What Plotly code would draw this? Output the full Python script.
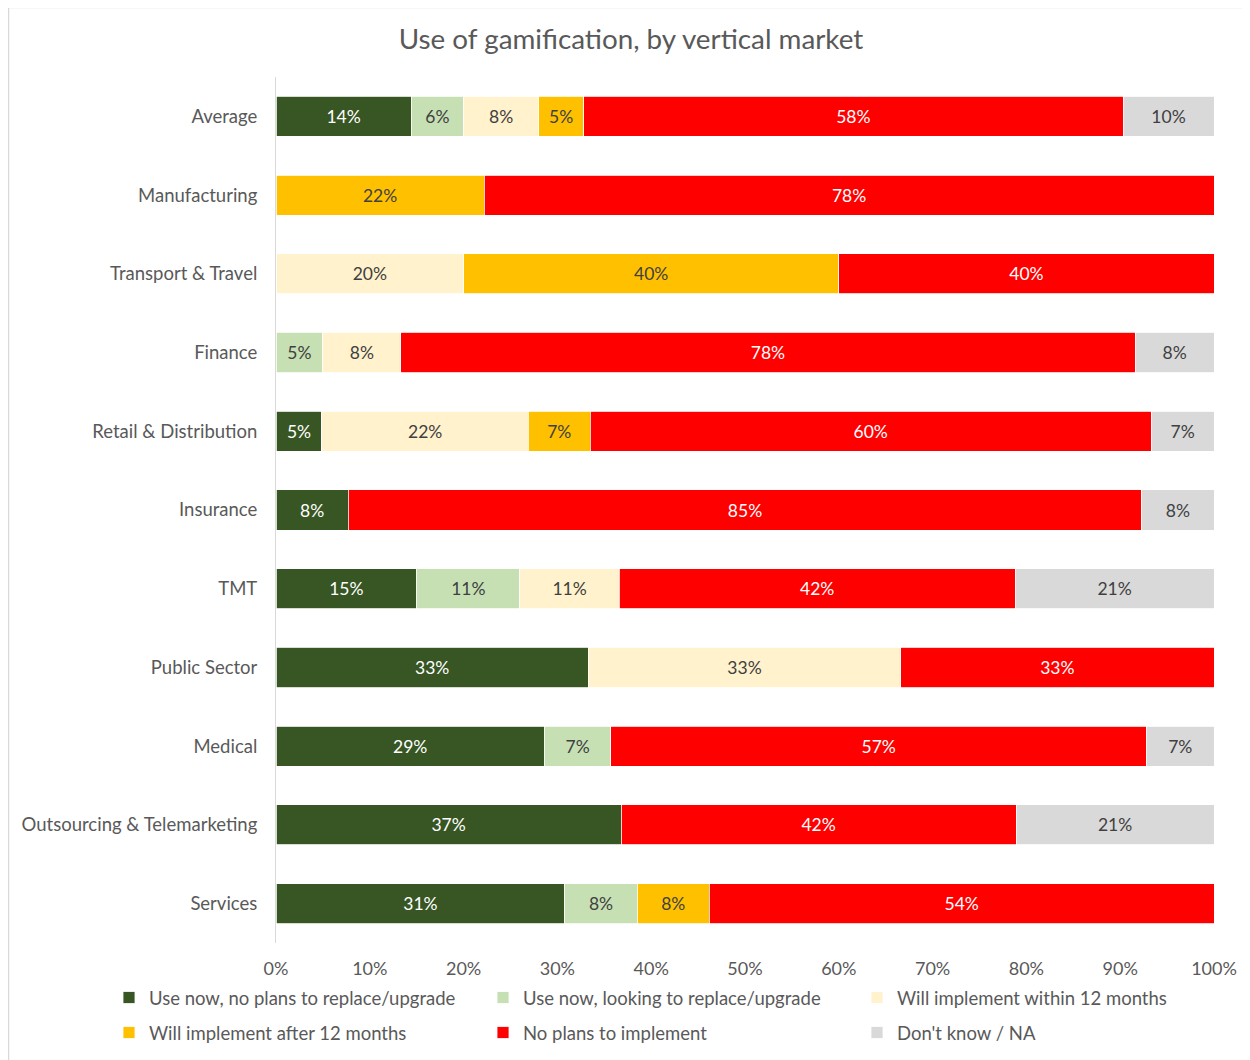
import plotly.graph_objects as go

categories = ["Average", "Manufacturing", "Transport & Travel", "Finance",
              "Retail & Distribution", "Insurance", "TMT", "Public Sector",
              "Medical", "Outsourcing & Telemarketing", "Services"]

series_names = ["Use now, no plans to replace/upgrade",
                "Use now, looking to replace/upgrade",
                "Will implement within 12 months",
                "Will implement after 12 months",
                "No plans to implement",
                "Don't know / NA"]

use_no_replace = [14.4, 0, 0, 0, 4.9, 7.7, 15.0, 33.3, 28.6, 36.8, 30.8]
use_replace =    [5.6, 0, 0, 5.0, 0, 0, 11.0, 0, 7.1, 0, 7.7]
within_12 =      [8.0, 0, 20.0, 8.3, 22.0, 0, 10.6, 33.3, 0, 0, 0]
after_12 =       [4.8, 22.2, 40.0, 0, 6.6, 0, 0, 0, 0, 0, 7.7]
no_plans =       [57.5, 77.8, 40.0, 78.3, 59.8, 84.6, 42.2, 33.4, 57.1, 42.1, 53.8]
dont_know =      [9.7, 0, 0, 8.4, 6.7, 7.7, 21.2, 0, 7.2, 21.1, 0]

tick_vals = [0, 10, 20, 30, 40, 50, 60, 70, 80, 90, 100]
tick_text = ["0%", "10%", "20%", "30%", "40%", "50%", "60%", "70%", "80%", "90%", "100%"]

colors = ["#375623", "#C6E0B4", "#FFF2CC", "#FFC000", "#FF0000", "#D9D9D9"]
text_colors = ["#FFFFFF", "#404040", "#404040", "#404040", "#FFFFFF", "#404040"]

FONT = "Lato"
TXT = "#595959"
fig = go.Figure()
all_series = [use_no_replace, use_replace, within_12, after_12, no_plans, dont_know]
for i, (name, vals, col, tcol) in enumerate(zip(series_names, all_series, colors, text_colors)):
    texts = [f"{v:.0f}%" if v > 0 else "" for v in vals]
    fig.add_trace(go.Bar(
        y=categories, x=vals, name=name, orientation="h",
        marker=dict(color=col, line=dict(color="white", width=0.8)),
        text=texts, textposition="inside", insidetextanchor="middle",
        textangle=0,
        textfont=dict(color=tcol, size=17.5, family=FONT),
        width=0.51,
        legend="legend" if i < 3 else "legend2",
    ))

W, H = 1242, 1052
L, R, T, B = 268, 36, 69, 117
pw, ph = W - L - R, H - T - B

def px_x(fx):
    return (fx - L) / pw

def px_y(fy):
    return (H - B - fy) / ph

leg_common = dict(orientation="h", xanchor="left", yanchor="middle",
                  entrywidth=329, entrywidthmode="pixels", traceorder="normal",
                  font=dict(size=18.5, color=TXT, family=FONT), itemwidth=30,
                  bgcolor="rgba(0,0,0,0)")

fig.update_layout(
    barmode="stack",
    width=W, height=H,
    margin=dict(l=L, r=R, t=T, b=B, autoexpand=False),
    paper_bgcolor="white", plot_bgcolor="white",
    font=dict(family=FONT, color=TXT, size=18),
    title=dict(text="Use of gamification, by vertical market",
               x=(631 - 8) / W, xanchor="center", y=1 - (39 - 8) / H, yanchor="middle",
               font=dict(size=27.8, color=TXT, family=FONT)),
    uniformtext=dict(minsize=10, mode="show"),
    legend=dict(x=px_x(109 - 8), y=px_y(998 - 8), **leg_common),
    legend2=dict(x=px_x(109 - 8), y=px_y(1033 - 8), **leg_common),
    showlegend=True,
)
fig.update_xaxes(range=[0, 100], tickvals=tick_vals, ticktext=tick_text,
                 showgrid=False, zeroline=False, showline=False, automargin=False,
                 tickfont=dict(size=18, color=TXT), ticks="", ticklabelstandoff=13)
fig.update_yaxes(autorange="reversed", showgrid=False, zeroline=False,
                 showline=True, linecolor="#D9D9D9", linewidth=1, automargin=False,
                 ticks="", ticklabelstandoff=14,
                 tickfont=dict(size=18.5, color=TXT))
# outer chart border
fig.add_shape(type="rect", xref="paper", yref="paper",
              x0=px_x(0.5), x1=px_x(W + 5), y0=px_y(H + 5), y1=px_y(-0.5),
              line=dict(color="#D9D9D9", width=1.5), fillcolor="rgba(0,0,0,0)", layer="below")

fig.write_html("out.html")
